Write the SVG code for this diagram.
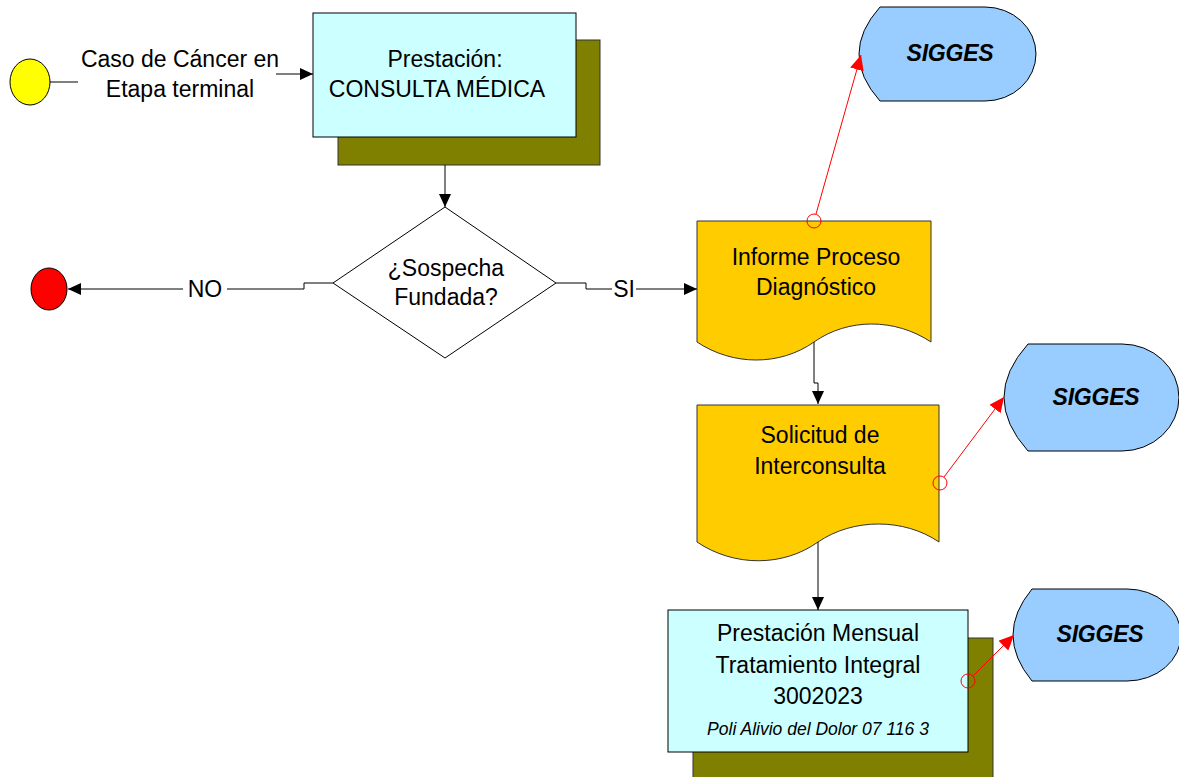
<svg xmlns="http://www.w3.org/2000/svg" width="1179" height="777" viewBox="0 0 1179 777">
<defs>
<marker id="arr" markerUnits="userSpaceOnUse" markerWidth="14" markerHeight="12" refX="13" refY="6" orient="auto"><path d="M0,0 L13,6 L0,12 Z" fill="#000"/></marker>
<marker id="arrR" markerUnits="userSpaceOnUse" markerWidth="16" markerHeight="14" refX="15" refY="7" orient="auto"><path d="M0,0 L15,7 L0,14 Z" fill="#FF0000"/></marker>
<style>
text{font-family:"Liberation Sans",Arial,sans-serif;font-size:23px;fill:#000;text-anchor:middle}
.sig{font-weight:bold;font-style:italic;font-size:23px;letter-spacing:-0.2px}
.it{font-style:italic;font-size:17.5px}
.box{fill:#CCFFFF;stroke:#000;stroke-width:1}
.shadow{fill:#808000;stroke:#333;stroke-width:1}
.doc{fill:#FFCC00;stroke:#333;stroke-width:1}
.disp{fill:#99CCFF;stroke:#000;stroke-width:1}
.ln{fill:none;stroke:#000;stroke-width:1}
.rl{fill:none;stroke:#FF0000;stroke-width:1}
</style>
</defs>
<g id="start">
<ellipse cx="30" cy="82" rx="20" ry="23" fill="#FFFF00" stroke="#000"/>
<text x="180" y="67">Caso de Cáncer en</text>
<text x="180" y="97">Etapa terminal</text>
</g>
<g id="consulta">
<rect class="shadow" x="338" y="40" width="262" height="125"/>
<rect class="box" x="313" y="13" width="263" height="124"/>
<text x="445" y="67">Prestación:</text>
<text x="437" y="97">CONSULTA MÉDICA</text>
</g>
<g id="decision">
<polygon points="445,207 556,283 445,358 333,283" fill="#fff" stroke="#000"/>
<text x="446" y="276">¿Sospecha</text>
<text x="446" y="305">Fundada?</text>
</g>
<g id="end">
<ellipse cx="49" cy="289" rx="18" ry="21" fill="#FF0000" stroke="#000"/>
</g>
<g id="informe">
<path class="doc" d="M697,221 H931 V342 C895,318 848,318 814,342 C780,366 733,366 697,342 Z"/>
<text x="816" y="265">Informe Proceso</text>
<text x="816" y="295">Diagnóstico</text>
</g>
<g id="sigges1">
<path class="disp" d="M880,7 H985 A51,47 0 0 1 985,101 H880 Q838,54 880,7 Z"/>
<text class="sig" x="950" y="61">SIGGES</text>
</g>
<g id="solicitud">
<path class="doc" d="M697,405 H939 V542 C904,518 853,518 818,542 C783,567 734,567 697,542 Z"/>
<text x="820" y="443">Solicitud de</text>
<text x="820" y="474">Interconsulta</text>
</g>
<g id="sigges2">
<path class="disp" d="M1028,344 H1122 A57,53.5 0 0 1 1122,451 H1028 Q980,397.5 1028,344 Z"/>
<text class="sig" x="1096" y="405">SIGGES</text>
</g>
<g id="mensual">
<rect class="shadow" x="693" y="638" width="300" height="145"/>
<rect class="box" x="668" y="610" width="300" height="142"/>
<text x="818" y="641">Prestación Mensual</text>
<text x="818" y="673">Tratamiento Integral</text>
<text x="818" y="704">3002023</text>
<text class="it" x="818" y="735">Poli Alivio del Dolor 07 116 3</text>
</g>
<g id="sigges3">
<path class="disp" d="M1032,589 H1127 A54,46 0 0 1 1127,681 H1032 Q994,635 1032,589 Z"/>
<text class="sig" x="1100" y="642">SIGGES</text>
</g>
<g id="connectors">
<line class="ln" x1="50" y1="82" x2="78" y2="82"/>
<line class="ln" x1="276" y1="74" x2="313" y2="74" marker-end="url(#arr)"/>
<line class="ln" x1="445" y1="165" x2="445" y2="207" marker-end="url(#arr)"/>
<path class="ln" d="M333,283 H304 V289 H68" marker-end="url(#arr)"/>
<path class="ln" d="M556,283 H586 V289 H697" marker-end="url(#arr)"/>
<path class="ln" d="M814,342 V383 H818 V404" marker-end="url(#arr)"/>
<line class="ln" x1="818" y1="542" x2="818" y2="610" marker-end="url(#arr)"/>
<circle class="rl" cx="814" cy="221" r="7"/>
<line class="rl" x1="816" y1="214" x2="861" y2="55" marker-end="url(#arrR)"/>
<circle class="rl" cx="940" cy="483" r="7"/>
<line class="rl" x1="944" y1="477" x2="1004" y2="397" marker-end="url(#arrR)"/>
<circle class="rl" cx="968" cy="681" r="7"/>
<line class="rl" x1="973" y1="676" x2="1014" y2="635" marker-end="url(#arrR)"/>
<rect x="183" y="278" width="44" height="22" fill="#fff"/>
<text x="205" y="297">NO</text>
<rect x="612" y="278" width="24" height="22" fill="#fff"/>
<text x="624" y="297">SI</text>
</g>
</svg>
